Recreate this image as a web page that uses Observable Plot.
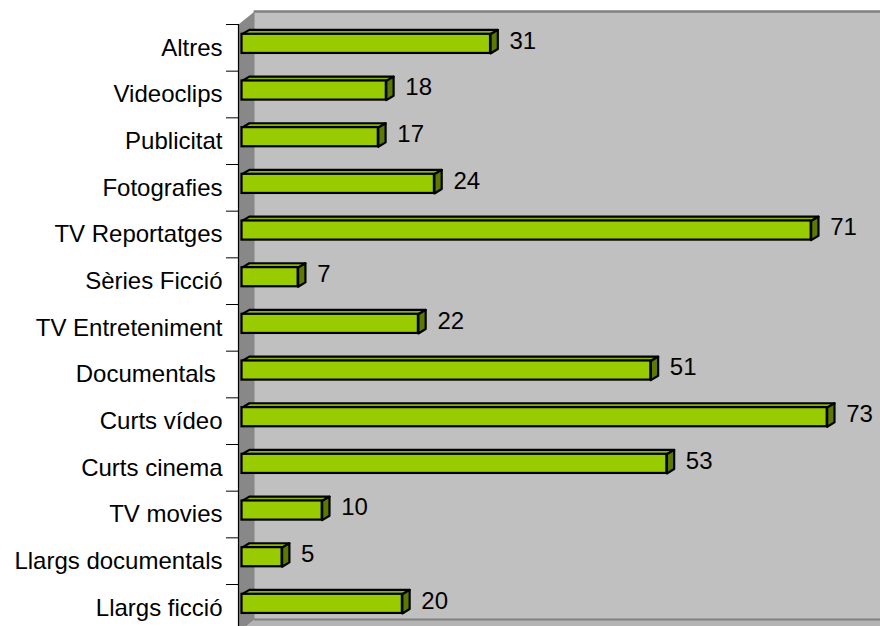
<!DOCTYPE html>
<html><head><meta charset="utf-8">
<script src="https://cdn.jsdelivr.net/npm/d3@7"></script>
<script src="https://cdn.jsdelivr.net/npm/@observablehq/plot@0.6"></script>
<style>body{margin:0;background:#fff}svg{display:block}</style>
</head><body><div id="chart"></div>
<script>
const categories = ["Altres","Videoclips","Publicitat","Fotografies","TV Reportatges","Sèries Ficció","TV Entreteniment","Documentals\u00a0","Curts vídeo","Curts cinema","TV movies","Llargs documentals","Llargs ficció"];
const values = [31,18,17,24,71,7,22,51,73,53,10,5,20];

const data = categories.map((c, i) => ({i, c, v: values[i]}));

// style constants (data units)
const xMin = -0.44, xMax = 79.65;
const yTop = -0.5, yBot = 12.4;
const wallDX = 2.0, wallDY = 0.28, floorY = 12.25;
const barDX = 0.91, barDY = 0.094, barTop = -0.29, barBot = 0.12;

const frontC = "#99cc00", topC = "#8ab800", sideC = "#5c7a00";

const topFaces = data.flatMap(d => {
  const y1 = d.i + barTop;
  return [[0, y1], [d.v, y1], [d.v + barDX, y1 - barDY], [barDX, y1 - barDY], [0, y1]].map(([x, y]) => ({x, y, k: d.i}));
});
const sideFaces = data.flatMap(d => {
  const y1 = d.i + barTop, y2 = d.i + barBot;
  return [[d.v, y1], [d.v + barDX, y1 - barDY], [d.v + barDX, y2 - barDY], [d.v, y2], [d.v, y1]].map(([x, y]) => ({x, y, k: d.i}));
});
const sideWall = [[xMin, yTop], [xMin + wallDX, yTop - wallDY], [xMin + wallDX, floorY], [xMin, floorY + wallDY]].map(([x, y]) => ({x, y}));
const floor = [[xMin, floorY + wallDY], [xMin + wallDX, floorY], [xMax, floorY], [xMax, floorY + wallDY]].map(([x, y]) => ({x, y}));

const plot = Plot.plot({
  width: 880, height: 626,
  marginLeft: 238, marginRight: 0, marginTop: 24, marginBottom: 0,
  style: {fontFamily: "'Liberation Sans', Arial, sans-serif", fontSize: "24px", color: "#000", background: "#fff"},
  x: {domain: [xMin, xMax], axis: null},
  y: {domain: [yTop, yBot], reverse: true, axis: null},
  marks: [
    // walls
    Plot.rect([0], {x1: xMin + wallDX, x2: xMax, y1: yTop - wallDY, y2: floorY, fill: "#c0c0c0"}),
    Plot.line(floor, {x: "x", y: "y", fill: "#b4b4b4", stroke: "none"}),
    Plot.line(sideWall, {x: "x", y: "y", fill: "#888888", stroke: "none"}),
    Plot.ruleY([yTop - wallDY], {x1: xMin + wallDX - 0.05, x2: xMax, stroke: "#808080", strokeWidth: 2.5}),
    Plot.ruleY([floorY], {x1: xMin + wallDX, x2: xMax, stroke: "#808080", strokeWidth: 2}),
    // y axis line + ticks
    Plot.ruleX([xMin], {y1: yTop, y2: yBot + 1, stroke: "#000", strokeWidth: 1.2}),
    Plot.axisY(d3.range(0, 13).map(i => i - 0.5), {anchor: "left", tickSize: 12, tickFormat: () => "", stroke: "#000"}),
    Plot.axisY(d3.range(0, 13), {anchor: "left", tickSize: 0, tickPadding: 16, tickFormat: i => categories[i], fontSize: 24, fill: "#000"}),
    // bars
    Plot.line(topFaces, {x: "x", y: "y", z: "k", fill: topC, stroke: "#000", strokeWidth: 2.2, strokeLinejoin: "round"}),
    Plot.line(sideFaces, {x: "x", y: "y", z: "k", fill: sideC, stroke: "#000", strokeWidth: 2.2, strokeLinejoin: "round"}),
    Plot.rect(data, {x1: () => 0, x2: "v", y1: d => d.i + barTop, y2: d => d.i + barBot, fill: frontC, stroke: "#000", strokeWidth: 2.2}),
    // value labels
    Plot.text(data, {x: "v", y: "i", text: d => String(d.v), dx: 19, dy: -7, textAnchor: "start", fontSize: 24, fill: "#000"})
  ]
});
document.getElementById("chart").appendChild(plot);
</script>
</body></html>
